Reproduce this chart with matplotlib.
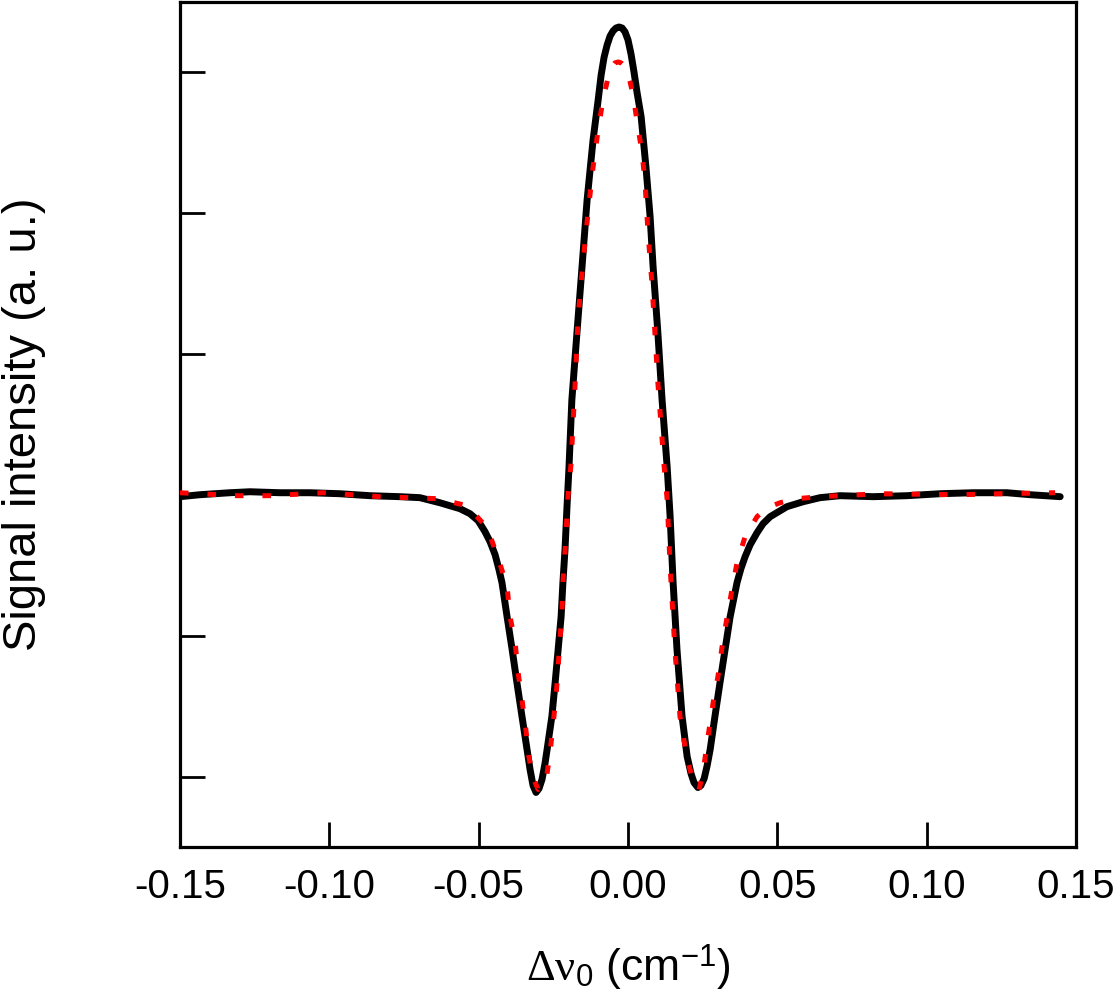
import numpy as np
import matplotlib
matplotlib.use('Agg')
import matplotlib.pyplot as plt

plt.rcParams['font.family'] = ['Liberation Sans', 'DejaVu Sans']
plt.rcParams['axes.unicode_minus'] = False
plt.rcParams['mathtext.fontset'] = 'custom'
plt.rcParams['mathtext.rm'] = 'Liberation Serif'
plt.rcParams['mathtext.sf'] = 'Liberation Sans'
plt.rcParams['mathtext.it'] = 'Liberation Serif:italic'

# measured signal (black)
signal_x = [-0.1500, -0.1433, -0.1333, -0.1266, -0.1165, -0.1065, -0.0965, -0.0864,
            -0.0764, -0.0697, -0.0630, -0.0563, -0.0529, -0.0502, -0.0479, -0.0462,
            -0.0445, -0.0432, -0.0422,
            -0.0405, -0.0388, -0.0372, -0.0355, -0.0338, -0.0328, -0.0318, -0.0308,
            -0.0298, -0.0288, -0.0278,
            -0.0271, -0.0255, -0.0244, -0.0234, -0.0224, -0.0218, -0.0211, -0.0204,
            -0.0198, -0.0188, -0.0171, -0.0154, -0.0137, -0.0117, -0.0100, -0.0090,
            -0.0080, -0.0070, -0.0060, -0.0050, -0.0040, -0.0030, -0.0020, -0.0010,
            0.0000, 0.0010, 0.0020, 0.0030, 0.0044, 0.0060, 0.0074,
            0.0084, 0.0100, 0.0114, 0.0131, 0.0141, 0.0151, 0.0164, 0.0181,
            0.0198, 0.0211, 0.0221, 0.0234, 0.0244, 0.0255, 0.0265, 0.0275,
            0.0291, 0.0308, 0.0325,
            0.0342, 0.0365, 0.0378, 0.0392, 0.0409, 0.0432, 0.0452, 0.0476,
            0.0532, 0.0586, 0.0643,
            0.0710, 0.0821, 0.0934, 0.1045, 0.1155, 0.1269, 0.1346, 0.1447]
signal_y = [-0.014, 0.000, 0.014, 0.021, 0.014, 0.014, 0.007, -0.007,
            -0.014, -0.021, -0.057, -0.099, -0.135, -0.184, -0.262, -0.333,
            -0.426, -0.532, -0.624,
            -0.865, -1.099, -1.333, -1.574, -1.809, -1.950, -2.064, -2.113,
            -2.085, -2.021, -1.908,
            -1.809, -1.574, -1.333, -1.099, -0.865, -0.624, -0.390, -0.071,
            0.177, 0.674, 1.149, 1.617, 2.092, 2.518, 2.801, 2.979,
            3.106, 3.191, 3.255, 3.291, 3.312, 3.319, 3.312, 3.284,
            3.227, 3.128, 3.000, 2.858, 2.681, 2.326, 1.972,
            1.617, 1.149, 0.674, 0.199, -0.156, -0.624, -1.099, -1.574,
            -1.858, -1.979, -2.043, -2.078, -2.064, -2.014, -1.922, -1.809,
            -1.574, -1.333, -1.099,
            -0.865, -0.624, -0.525, -0.440, -0.355, -0.270, -0.206, -0.156,
            -0.085, -0.050, -0.021,
            -0.007, -0.014, -0.007, 0.007, 0.014, 0.014, 0.000, -0.014]

# fit (red dashed)
fit_x = [-0.1500, -0.1309, -0.1199, -0.1021, -0.0831, -0.0640, -0.0539, -0.0472,
         -0.0435, -0.0405, -0.0395, -0.0378, -0.0368, -0.0355, -0.0342, -0.0332,
         -0.0318, -0.0301, -0.0275, -0.0261, -0.0251, -0.0241, -0.0234, -0.0228,
         -0.0221, -0.0218, -0.0211, -0.0201, -0.0191, -0.0177, -0.0167, -0.0154,
         -0.0134, -0.0117, -0.0100, -0.0084, -0.0064, -0.0054, -0.0044, -0.0033,
         -0.0023, -0.0013, -0.0003, 0.0007, 0.0017,
         0.0033, 0.0047, 0.0057, 0.0067, 0.0080, 0.0090, 0.0100,
         0.0121, 0.0131, 0.0141, 0.0157, 0.0174, 0.0198, 0.0224, 0.0238,
         0.0251, 0.0268, 0.0285, 0.0301, 0.0315, 0.0332, 0.0348, 0.0365,
         0.0392, 0.0432, 0.0466, 0.0509, 0.0566, 0.0643, 0.0844, 0.1112,
         0.1246, 0.1430]
fit_y = [0.014, -0.007, -0.007, 0.014, -0.014, -0.028, -0.078, -0.234,
         -0.447, -0.652, -0.865, -1.050, -1.262, -1.454, -1.667, -1.858,
         -2.007, -2.092, -2.035, -1.830, -1.631, -1.433, -1.227, -1.028,
         -0.830, -0.624, -0.411, -0.014, 0.213, 0.794, 1.262, 1.574,
         2.000, 2.326, 2.589, 2.801, 2.986, 3.035, 3.064, 3.071,
         3.064, 3.043, 3.000, 2.929, 2.837,
         2.610, 2.426, 2.213, 1.858, 1.504, 1.149, 0.794,
         0.199, -0.035, -0.511, -1.099, -1.574, -1.879, -2.071, -2.092,
         -1.972, -1.716, -1.475, -1.291, -1.078, -0.865, -0.674, -0.482,
         -0.298, -0.156, -0.092, -0.057, -0.028, -0.014, 0.007, 0.000,
         0.007, 0.014]

xticks = [-0.15, -0.10, -0.05, 0.00, 0.05, 0.10, 0.15]
yticks = [-2, -1, 0, 1, 2, 3]

fig = plt.figure(figsize=(11.14, 10), dpi=100)
ax = fig.add_axes([0.1616, 0.153, 0.8043, 0.8455])

ax.plot(signal_x, signal_y, color='black', lw=5, solid_joinstyle='round',
        solid_capstyle='round', zorder=2)
ax.plot(fit_x, fit_y, color='#ff0000', lw=3.6, linestyle=(0, (1.7, 3.8)),
        dash_capstyle='butt', zorder=3)

ax.set_xlim(-0.15, 0.15)
ax.set_ylim(-2.5, 3.5)
ax.set_xticks(xticks)
ax.set_xticklabels(['%.2f' % t for t in xticks])
ax.set_yticks(yticks)
ax.set_yticklabels([])

for s in ax.spines.values():
    s.set_linewidth(2.3)
ax.tick_params(axis='both', direction='in', length=18, width=2, labelsize=29,
               pad=15, color='black')
ax.tick_params(axis='x', top=False)
ax.tick_params(axis='y', right=False)

ax.set_xlabel(r'$\mathrm{\Delta\nu}_{\mathsf{0}}$ (cm$^{\mathsf{-1}}$)', fontsize=32)
ax.set_ylabel('Signal intensity (a. u.)', fontsize=34)
ax.xaxis.set_label_coords(0.5, -0.113)
ax.yaxis.set_label_coords(-0.150, 0.5)

fig.savefig('out.png', dpi=100)
